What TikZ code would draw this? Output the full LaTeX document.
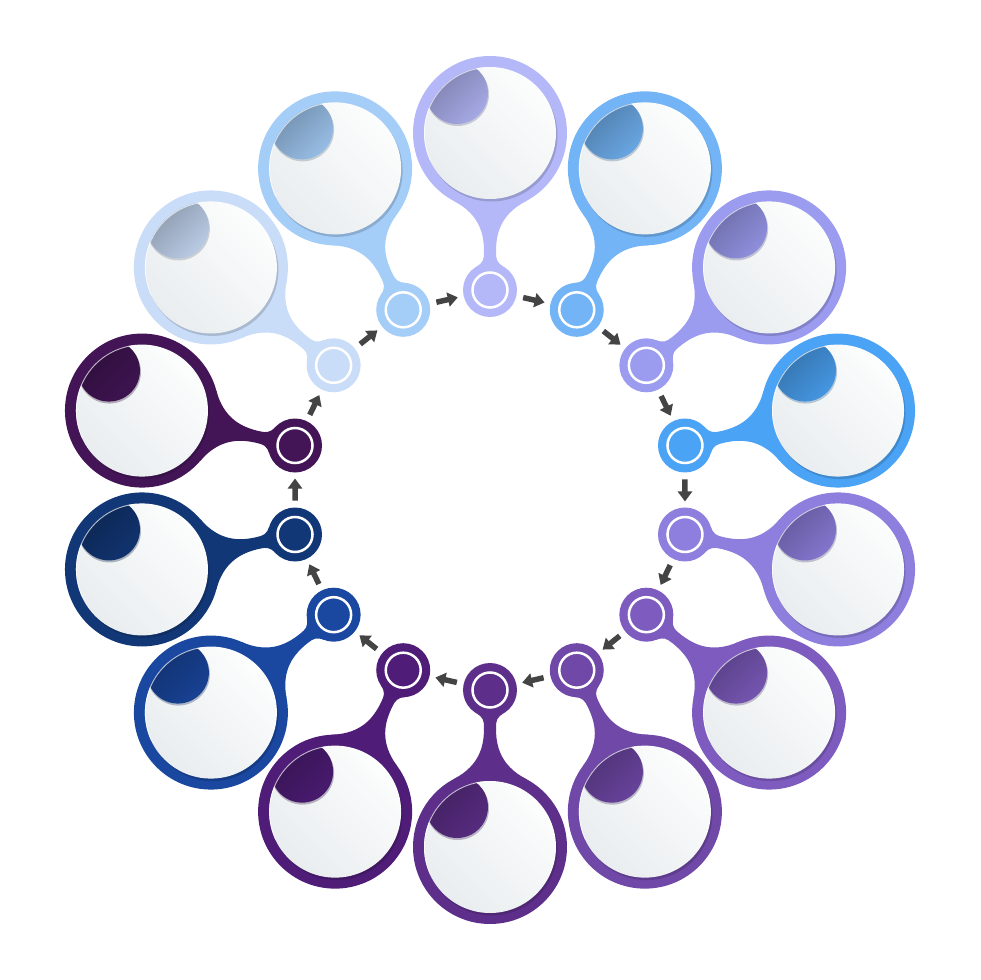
\documentclass[tikz,border=0pt]{standalone}
\usepackage{tikz}
\usepackage{xcolor}
\usetikzlibrary{arrows.meta, positioning, calc}

\definecolor{c0}{HTML}{B4B8F8}
\definecolor{c1}{HTML}{72B4F5}
\definecolor{c2}{HTML}{9B9BF0}
\definecolor{c3}{HTML}{4BA3F5}
\definecolor{c4}{HTML}{8E7FDE}
\definecolor{c5}{HTML}{7E5CBF}
\definecolor{c6}{HTML}{7048A8}
\definecolor{c7}{HTML}{5E2F8A}
\definecolor{c8}{HTML}{4F1D78}
\definecolor{c9}{HTML}{1A47A0}
\definecolor{c10}{HTML}{123777}
\definecolor{c11}{HTML}{431557}
\definecolor{c12}{HTML}{C9DCF8}
\definecolor{c13}{HTML}{A4CDF8}
\definecolor{disclight}{HTML}{FCFDFD}
\definecolor{discdark}{HTML}{E9EDEF}
\definecolor{arrowgray}{HTML}{444444}

\tikzset{
  bigc/.style={circle, inner sep=0, outer sep=0, minimum size=154},
  smallc/.style={circle, inner sep=0, outer sep=0, minimum size=54,
    path picture={\draw[white, line width=2.5] (path picture bounding box.center) circle (17.5);}},
  arr/.style={draw=arrowgray, line width=5.5, -{Triangle[length=10pt,width=14pt]}, shorten >=6, shorten <=7},
}

\begin{document}
\begin{tikzpicture}[x=1pt, y=1pt]
\useasboundingbox (-490,-490) rectangle (490,490);
% Items
\foreach \k in {0,...,13} {
  \pgfmathsetmacro{\ang}{90-\k*360/14}
  % Stem
  \fill[c\k, rotate=\ang] (223.4,13.5) .. controls (227.4,6.6) and (231,6) .. (238,6)
    .. controls (255,6) and (275,9.6) .. (289,36.1) -- (289,-36.1)
    .. controls (275,-9.6) and (255,-6) .. (238,-6)
    .. controls (231,-6) and (227.4,-6.6) .. (223.4,-13.5) -- cycle;
  % Big circle
  \node[bigc, fill=c\k] (b\k) at (\ang:357) {};
  \fill[c\k!65!black, opacity=0.45] ($(b\k)+(1.5,-2.5)$) circle (66);
  \shade[top color=disclight, bottom color=discdark, shading angle=-45] (b\k) circle (66);
  \begin{scope}
    \clip (b\k) circle (66);
    \fill[c\k!55!black, opacity=0.3] ($(b\k)+(-32.5,38.5)$) circle (31.5);
    \shade[top color=c\k!68!black, bottom color=c\k!92!black, shading angle=45] ($(b\k)+(-33,40)$) circle (31);
  \end{scope}
  \draw[white, line width=0.8, opacity=0.7] (b\k) ++(95:65.6) arc (95:205:65.6);
  % Small circle
  \node[smallc, fill=c\k] (s\k) at (\ang:200) {};
}
% Arrows
\foreach \k in {0,...,13} {
  \pgfmathtruncatemacro{\n}{mod(\k+1,14)}
  \draw[arr] (s\k) -- (s\n);
}
\end{tikzpicture}
\end{document}
